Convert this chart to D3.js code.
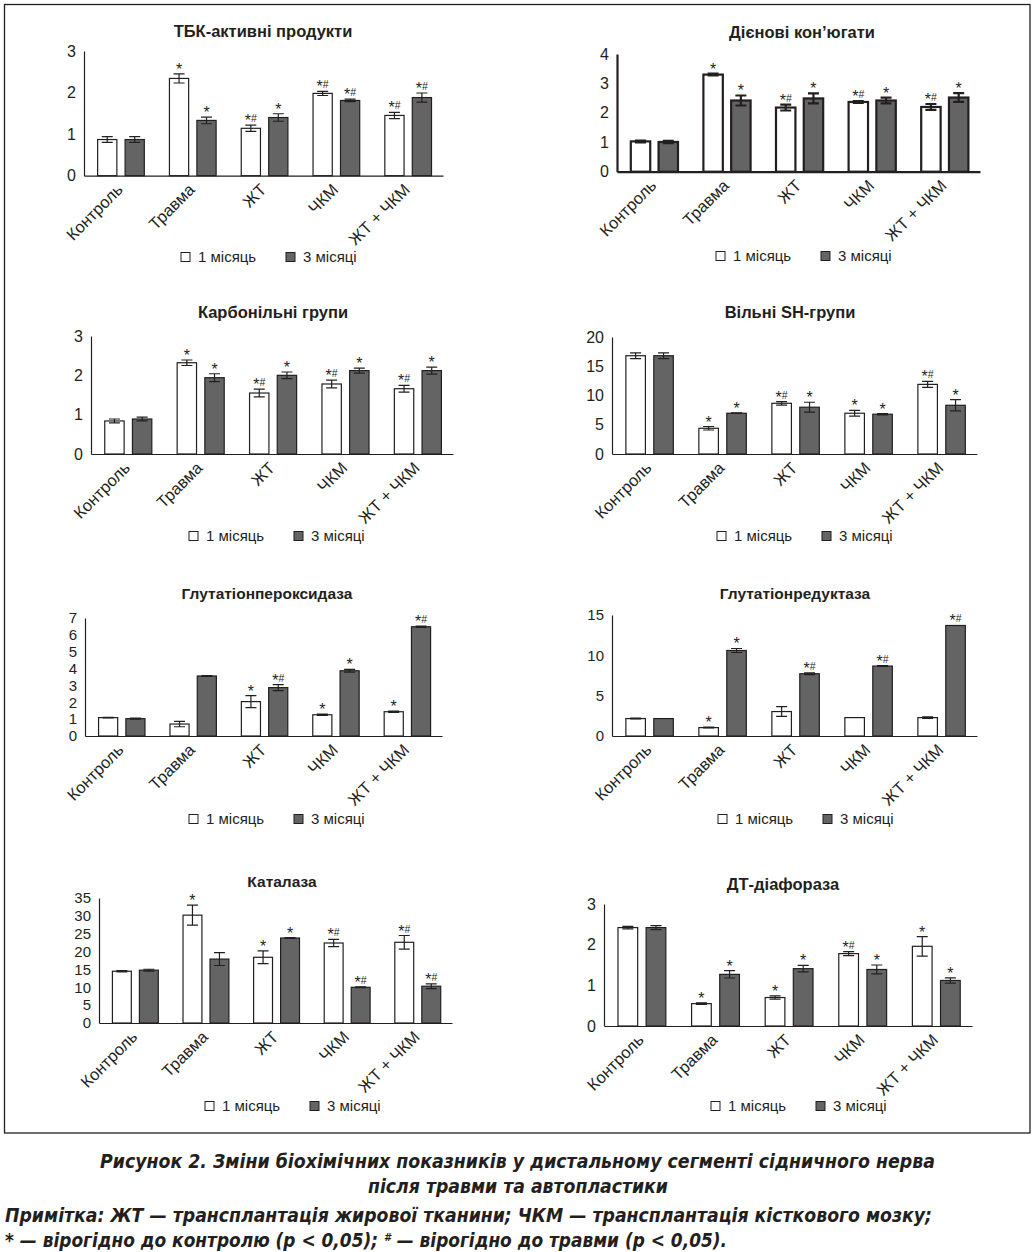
<!DOCTYPE html>
<html>
<head>
<meta charset="utf-8">
<script src="https://cdn.jsdelivr.net/npm/d3@7"></script>
<style>
  body { margin: 0; background: #fff; }
  svg { display: block; font-family: "Liberation Sans", Arial, sans-serif; }
</style>
</head>
<body>
<div id="chart"></div>
<script>
// groups and series
const categories = ['Контроль', 'Травма', 'ЖТ', 'ЧКМ', 'ЖТ + ЧКМ']
const seriesNames = ['1 місяць', '3 місяці']

// ТБК-активні продукти
const tbkM1 = [0.87, 2.34, 1.14, 1.98, 1.45]
const tbkM3 = [0.87, 1.33, 1.40, 1.81, 1.88]
const tbkErr1 = [0.07, 0.11, 0.075, 0.05, 0.075]
const tbkErr3 = [0.07, 0.08, 0.09, 0.03, 0.11]
const tbkSig1 = ['', '*', '*#', '*#', '*#']
const tbkSig3 = ['', '*', '*', '*#', '*#']

// Дієнові кон'югати
const dienM1 = [1.03, 3.30, 2.18, 2.37, 2.20]
const dienM3 = [1.01, 2.42, 2.49, 2.42, 2.52]
const dienErr1 = [0.03, 0.03, 0.1, 0.03, 0.1]
const dienErr3 = [0.04, 0.17, 0.17, 0.1, 0.15]
const dienSig1 = ['', '*', '*#', '*#', '*#']
const dienSig3 = ['', '*', '*', '*', '*']

// Карбонільні групи
const karbM1 = [0.84, 2.32, 1.55, 1.78, 1.66]
const karbM3 = [0.89, 1.94, 2.00, 2.12, 2.12]
const karbErr1 = [0.05, 0.07, 0.1, 0.1, 0.085]
const karbErr3 = [0.05, 0.1, 0.085, 0.065, 0.09]
const karbSig1 = ['', '*', '*#', '*#', '*#']
const karbSig3 = ['', '*', '*', '*', '*']

// Вільні SH-групи
const shM1 = [16.8, 4.4, 8.67, 6.97, 11.9]
const shM3 = [16.8, 6.97, 8.0, 6.8, 8.33]
const shErr1 = [0.5, 0.3, 0.3, 0.5, 0.5]
const shErr3 = [0.5, 0.05, 0.85, 0.1, 0.95]
const shSig1 = ['', '*', '*#', '*', '*#']
const shSig3 = ['', '*', '*', '*', '*']

// Глутатіонпероксидаза
const gpxM1 = [1.09, 0.71, 2.04, 1.26, 1.44]
const gpxM3 = [1.03, 3.56, 2.87, 3.87, 6.48]
const gpxErr1 = [0.02, 0.16, 0.36, 0.04, 0.04]
const gpxErr3 = [0.03, 0.02, 0.18, 0.08, 0.04]
const gpxSig1 = ['', '', '*', '*', '*']
const gpxSig3 = ['', '', '*#', '*', '*#']

// Глутатіонредуктаза
const grM1 = [2.16, 1.04, 3.03, 2.28, 2.28]
const grM3 = [2.16, 10.6, 7.72, 8.67, 13.7]
const grErr1 = [0.05, 0.05, 0.6, 0, 0.1]
const grErr3 = [0, 0.25, 0.1, 0.05, 0]
const grSig1 = ['', '*', '', '', '']
const grSig3 = ['', '*', '*#', '*#', '*#']

// Каталаза
const katM1 = [14.5, 30.2, 18.4, 22.4, 22.6]
const katM3 = [14.8, 17.9, 23.8, 10.0, 10.3]
const katErr1 = [0.2, 2.8, 1.8, 1.0, 1.9]
const katErr3 = [0.25, 1.8, 0.1, 0.1, 0.65]
const katSig1 = ['', '*', '*', '*#', '*#']
const katSig3 = ['', '', '*', '*#', '*#']

// ДТ-діафораза
const dtM1 = [2.42, 0.55, 0.70, 1.78, 1.96]
const dtM3 = [2.42, 1.27, 1.41, 1.39, 1.12]
const dtErr1 = [0.03, 0.02, 0.04, 0.05, 0.24]
const dtErr3 = [0.05, 0.09, 0.08, 0.11, 0.065]
const dtSig1 = ['', '*', '*', '*#', '*']
const dtSig3 = ['', '*', '*', '*', '*']

const panels = [
  { title: 'ТБК-активні продукти', m1: tbkM1, m3: tbkM3, e1: tbkErr1, e3: tbkErr3, s1: tbkSig1, s3: tbkSig3,
    max: 3, step: 1, left: 84, right: 443, y0: 175.7, yTop: 51, tx: 263, ty: 31, lx: 181, ly: 257 },
  { title: 'Дієнові кон’югати', m1: dienM1, m3: dienM3, e1: dienErr1, e3: dienErr3, s1: dienSig1, s3: dienSig3,
    max: 4, step: 1, left: 617, right: 980, y0: 171.7, yTop: 54, tx: 802, ty: 32, lx: 716, ly: 256, thick: true },
  { title: 'Карбонільні групи', m1: karbM1, m3: karbM3, e1: karbErr1, e3: karbErr3, s1: karbSig1, s3: karbSig3,
    max: 3, step: 1, left: 91, right: 453, y0: 454, yTop: 336, tx: 273, ty: 312, lx: 189, ly: 536 },
  { title: 'Вільні SH-групи', m1: shM1, m3: shM3, e1: shErr1, e3: shErr3, s1: shSig1, s3: shSig3,
    max: 20, step: 5, left: 612, right: 977, y0: 454, yTop: 337, tx: 790, ty: 312, lx: 717, ly: 536 },
  { title: 'Глутатіонпероксидаза', m1: gpxM1, m3: gpxM3, e1: gpxErr1, e3: gpxErr3, s1: gpxSig1, s3: gpxSig3,
    max: 7, step: 1, left: 85, right: 442, y0: 736, yTop: 618, tx: 267, ty: 594, lx: 189, ly: 819, small: true },
  { title: 'Глутатіонредуктаза', m1: grM1, m3: grM3, e1: grErr1, e3: grErr3, s1: grSig1, s3: grSig3,
    max: 15, step: 5, left: 612, right: 977, y0: 736, yTop: 615, tx: 795, ty: 594, lx: 718, ly: 819, small: true },
  { title: 'Каталаза', m1: katM1, m3: katM3, e1: katErr1, e3: katErr3, s1: katSig1, s3: katSig3,
    max: 35, step: 5, left: 99, right: 452, y0: 1023, yTop: 898, tx: 282, ty: 882, lx: 205, ly: 1106, small: true },
  { title: 'ДТ-діафораза', m1: dtM1, m3: dtM3, e1: dtErr1, e3: dtErr3, s1: dtSig1, s3: dtSig3,
    max: 3, step: 1, left: 604, right: 972, y0: 1026, yTop: 904, tx: 783, ty: 884, lx: 711, ly: 1106 }
]

const width = 1034
const height = 1252
const ink = '#231f20'
const grey = '#646464'

var svg = d3.select('#chart').append('svg').attr('width', width).attr('height', height)

// outer frame
svg.append('rect')
  .attr('x', 4.5).attr('y', 4.5).attr('width', 1025.5).attr('height', 1128.5)
  .attr('fill', 'none').attr('stroke', ink).attr('stroke-width', 1.3)

panels.forEach(function(p) {
  const sw = p.thick ? 2.2 : 1.2
  const g = svg.append('g')

  const xScale = d3.scaleBand().domain(categories).range([p.left, p.right])
  const bw = xScale.bandwidth()
  const xInner = d3.scaleBand().domain(seriesNames)
    .range([0.19 * bw, 0.84 * bw]).paddingInner(0.3)
  const yScale = d3.scaleLinear().domain([0, p.max]).range([p.y0, p.yTop])

  g.append('text')
    .attr('x', p.tx).attr('y', p.ty).attr('dy', '0.35em')
    .attr('text-anchor', 'middle')
    .attr('font-weight', 'bold')
    .attr('font-size', p.small ? 15.5 : 16.5)
    .attr('fill', ink)
    .text(p.title)

  // y axis
  const yAxis = g.append('g')
    .attr('transform', 'translate(' + p.left + ',0)')
    .call(d3.axisLeft(yScale)
      .tickValues(d3.range(0, p.max + 0.001, p.step))
      .tickFormat(d3.format('d'))
      .tickSize(0).tickPadding(8))
  yAxis.select('.domain').attr('stroke', ink).attr('stroke-width', sw)
  yAxis.selectAll('text').attr('font-size', p.small ? 15 : 16).attr('fill', ink)

  // bars
  const rows = []
  categories.forEach(function(c, i) {
    rows.push({ cat: c, s: seriesNames[0], v: p.m1[i], e: p.e1[i], sig: p.s1[i] })
    rows.push({ cat: c, s: seriesNames[1], v: p.m3[i], e: p.e3[i], sig: p.s3[i] })
  })

  g.append('g').selectAll('rect')
    .data(rows)
    .enter()
    .append('rect')
    .attr('x', function(d) { return xScale(d.cat) + xInner(d.s) })
    .attr('y', function(d) { return yScale(d.v) })
    .attr('width', xInner.bandwidth())
    .attr('height', function(d) { return yScale(0) - yScale(d.v) })
    .attr('fill', function(d) { return d.s === seriesNames[0] ? '#fff' : grey })
    .attr('stroke', ink)
    .attr('stroke-width', sw)

  // error bars
  const errRows = rows.filter(function(d) { return d.e > 0 })
  const eg = g.append('g').attr('stroke', ink).attr('stroke-width', sw).attr('fill', 'none')
  const cx = function(d) { return xScale(d.cat) + xInner(d.s) + xInner.bandwidth() / 2 }
  eg.selectAll('path')
    .data(errRows)
    .enter()
    .append('path')
    .attr('d', function(d) {
      const x = cx(d)
      const hi = yScale(d.v + d.e)
      const lo = yScale(d.v - d.e)
      return 'M' + (x - 5.5) + ',' + hi + 'H' + (x + 5.5) +
        'M' + x + ',' + hi + 'V' + lo +
        'M' + (x - 5.5) + ',' + lo + 'H' + (x + 5.5)
    })

  // significance marks
  const sigs = g.append('g').selectAll('text')
    .data(rows.filter(function(d) { return d.sig !== '' }))
    .enter()
    .append('text')
    .attr('x', cx)
    .attr('y', function(d) { return yScale(d.v + d.e) + 1 })
    .attr('text-anchor', 'middle')
    .attr('fill', ink)
  sigs.append('tspan').attr('font-size', 16).text('*')
  sigs.filter(function(d) { return d.sig.indexOf('#') >= 0 })
    .append('tspan').attr('font-size', 10.5).attr('dy', -4).text('#')

  // x axis
  const xAxis = g.append('g')
    .attr('transform', 'translate(0,' + p.y0 + ')')
    .call(d3.axisBottom(xScale).tickSize(0).tickSizeOuter(0))
  xAxis.select('.domain').attr('stroke', ink).attr('stroke-width', sw)
  xAxis.selectAll('text')
    .attr('font-size', 16.5)
    .attr('fill', ink)
    .attr('text-anchor', 'end')
    .attr('x', 0).attr('y', 0).attr('dy', 0)
    .attr('transform', 'translate(4,15) rotate(-45)')

  // legend
  const lg = g.append('g').attr('transform', 'translate(' + p.lx + ',' + p.ly + ')')
  seriesNames.forEach(function(name, i) {
    const item = lg.append('g').attr('transform', 'translate(' + (i * 105) + ',0)')
    item.append('rect')
      .attr('x', 0).attr('y', -4.5).attr('width', 9).attr('height', 9)
      .attr('fill', i === 0 ? '#fff' : grey)
      .attr('stroke', ink).attr('stroke-width', 1)
    item.append('text')
      .attr('x', 17).attr('y', 0).attr('dy', '0.36em')
      .attr('font-size', 15).attr('fill', ink)
      .text(name)
  })
})

// caption
const capFont = '"Liberation Sans Narrow", "DejaVu Sans Condensed", "Arial Narrow", sans-serif'
const cap = svg.append('g')
  .attr('font-family', capFont)
  .attr('font-weight', 'bold')
  .attr('font-style', 'italic')
  .attr('font-size', 19)
  .attr('fill', ink)

cap.append('text').attr('x', 100).attr('y', 1168)
  .attr('textLength', 835).attr('lengthAdjust', 'spacingAndGlyphs')
  .text('Рисунок 2. Зміни біохімічних показників у дистальному сегменті сідничного нерва')
cap.append('text').attr('x', 368).attr('y', 1193)
  .attr('textLength', 300).attr('lengthAdjust', 'spacingAndGlyphs')
  .text('після травми та автопластики')
cap.append('text').attr('x', 5).attr('y', 1222)
  .attr('textLength', 927).attr('lengthAdjust', 'spacingAndGlyphs')
  .text('Примітка: ЖТ — трансплантація жирової тканини; ЧКМ —  трансплантація кісткового мозку;')

const note2 = cap.append('text').attr('x', 5).attr('y', 1247)
  .attr('textLength', 722).attr('lengthAdjust', 'spacingAndGlyphs')
note2.append('tspan').text('* — вірогідно до контролю (р < 0,05); ')
note2.append('tspan').attr('font-size', 11).attr('dy', -6).text('#')
note2.append('tspan').attr('dy', 6).text(' — вірогідно до травми (р < 0,05).')
</script>
</body>
</html>
